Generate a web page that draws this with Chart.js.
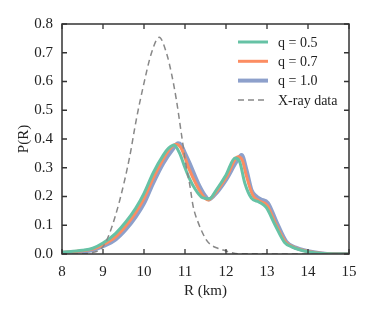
<!DOCTYPE html>
<html>
<head>
<meta charset="utf-8">
<script src="https://cdn.jsdelivr.net/npm/chart.js@4"></script>
<style>
  html, body { margin: 0; padding: 0; background: #fff; }
  #wrap { width: 374px; height: 312px; }
</style>
</head>
<body>
<div id="wrap"><canvas id="radius" width="374" height="312"></canvas></div>
<script>
// values
var rQ05 = [8.0, 8.5, 8.75, 9.0, 9.31, 9.56, 9.8, 10.0, 10.22, 10.47, 10.6, 10.73, 10.87, 11.0, 11.1, 11.25, 11.4, 11.48, 11.6, 11.75, 12.0, 12.22, 12.33, 12.46, 12.62, 12.8, 12.98, 13.2, 13.43, 13.6, 14.0, 14.5, 15.0];
var pQ05 = [0.006, 0.013, 0.02, 0.038, 0.072, 0.112, 0.16, 0.211, 0.281, 0.344, 0.368, 0.379, 0.35, 0.3, 0.265, 0.225, 0.198, 0.194, 0.192, 0.22, 0.275, 0.334, 0.322, 0.246, 0.194, 0.181, 0.162, 0.1, 0.04, 0.025, 0.008, 0.001, 0.0];

var rQ07 = [8.0, 8.5, 8.75, 9.0, 9.31, 9.56, 9.8, 10.0, 10.22, 10.47, 10.6, 10.78, 10.9, 11.0, 11.1, 11.3, 11.45, 11.57, 11.7, 12.0, 12.3, 12.4, 12.5, 12.65, 12.8, 13.0, 13.2, 13.45, 13.65, 14.0, 14.5, 15.0];
var pQ07 = [0.005, 0.011, 0.017, 0.032, 0.06, 0.098, 0.145, 0.193, 0.262, 0.33, 0.36, 0.382, 0.37, 0.335, 0.295, 0.235, 0.2, 0.188, 0.205, 0.265, 0.338, 0.325, 0.27, 0.205, 0.185, 0.17, 0.108, 0.042, 0.024, 0.009, 0.001, 0.0];

var rQ10 = [8.0, 8.5, 8.75, 9.0, 9.31, 9.56, 9.8, 10.0, 10.22, 10.47, 10.72, 10.83, 10.9, 11.0, 11.11, 11.32, 11.48, 11.58, 11.7, 12.0, 12.25, 12.38, 12.5, 12.62, 12.74, 12.85, 13.02, 13.23, 13.47, 13.7, 14.0, 14.3, 14.6, 15.0];
var pQ10 = [0.004, 0.009, 0.014, 0.027, 0.051, 0.086, 0.13, 0.176, 0.246, 0.316, 0.368, 0.385, 0.38, 0.35, 0.316, 0.246, 0.205, 0.19, 0.202, 0.258, 0.32, 0.344, 0.292, 0.223, 0.2, 0.19, 0.178, 0.112, 0.043, 0.022, 0.01, 0.003, 0.0, 0.0];

var rXray = [8.0, 8.5, 8.75, 9.0, 9.16, 9.41, 9.65, 9.81, 9.98, 10.18, 10.37, 10.55, 10.67, 10.79, 10.91, 11.03, 11.11, 11.2, 11.32, 11.52, 11.64, 11.8, 11.93, 12.1, 12.3, 15.0];
var pXray = [0.0, 0.001, 0.005, 0.025, 0.072, 0.188, 0.338, 0.466, 0.582, 0.698, 0.754, 0.698, 0.628, 0.536, 0.42, 0.304, 0.246, 0.165, 0.11, 0.049, 0.031, 0.02, 0.014, 0.006, 0.001, 0.0];

var seriesLabels = ['q = 0.5', 'q = 0.7', 'q = 1.0', 'X-ray data'];
var xTicksMin = 8, xTicksMax = 15;
var yTicksMin = 0, yTicksMax = 0.8;

function toPoints(xs, ys) {
    let pts = [];
    for (let i = 0; i < xs.length; i++) {
        pts.push({ x: xs[i], y: ys[i] });
    }
    return pts;
}

var serif = "'Liberation Serif', 'DejaVu Serif', serif";
var axisColor = '#333';

// inward ticks on all four sides + frame
const frameTicks = {
    id: 'frameTicks',
    afterDraw(chart) {
        const ctx = chart.ctx;
        const a = chart.chartArea;
        const xs = chart.scales.x, ys = chart.scales.y;
        ctx.save();
        ctx.strokeStyle = axisColor;
        ctx.lineWidth = 1.5;
        ctx.strokeRect(a.left, a.top, a.right - a.left, a.bottom - a.top);
        ctx.lineWidth = 1.3;
        ctx.beginPath();
        xs.ticks.forEach(function (t) {
            let px = xs.getPixelForValue(t.value);
            ctx.moveTo(px, a.bottom); ctx.lineTo(px, a.bottom - 5);
            ctx.moveTo(px, a.top); ctx.lineTo(px, a.top + 5);
        });
        ys.ticks.forEach(function (t) {
            let py = ys.getPixelForValue(t.value);
            ctx.moveTo(a.left, py); ctx.lineTo(a.left + 5, py);
            ctx.moveTo(a.right, py); ctx.lineTo(a.right - 5, py);
        });
        ctx.stroke();
        ctx.restore();
    }
};

// legend drawn inside the plot, top right
const insideLegend = {
    id: 'insideLegend',
    afterDraw(chart) {
        const ctx = chart.ctx;
        const a = chart.chartArea;
        const x0 = a.right - 111, x1 = a.right - 81, tx = a.right - 71;
        ctx.save();
        ctx.font = "14px " + serif;
        ctx.textBaseline = 'middle';
        chart.data.datasets.forEach(function (ds, i) {
            let y = a.top + 18 + i * 19.3;
            ctx.strokeStyle = ds.borderColor;
            ctx.lineWidth = ds.borderWidth;
            ctx.setLineDash(ds.borderDash || []);
            ctx.beginPath();
            ctx.moveTo(x0, y); ctx.lineTo(x1, y);
            ctx.stroke();
            ctx.setLineDash([]);
            ctx.fillStyle = '#222';
            ctx.fillText(ds.label, tx, y + 1);
        });
        ctx.restore();
    }
};

var ctxRadius = document.getElementById('radius').getContext('2d');
const radiusConfig = {
    type: 'scatter',
    data: {
        datasets: [{
            label: seriesLabels[0],
            data: toPoints(rQ05, pQ05),
            borderColor: '#66c2a5',
            borderWidth: 3,
            order: 1
        }, {
            label: seriesLabels[1],
            data: toPoints(rQ07, pQ07),
            borderColor: '#fc8d62',
            borderWidth: 3,
            order: 2
        }, {
            label: seriesLabels[2],
            data: toPoints(rQ10, pQ10),
            borderColor: '#8da0cb',
            borderWidth: 4,
            order: 3
        }, {
            label: seriesLabels[3],
            data: toPoints(rXray, pXray),
            borderColor: '#888',
            borderWidth: 1.5,
            borderDash: [6, 4],
            order: 0
        }]
    },
    options: {
        responsive: false,
        animation: false,
        showLine: true,
        layout: { padding: { top: 24, right: 25, left: 0, bottom: 0 } },
        elements: {
            point: { radius: 0 },
            line: { cubicInterpolationMode: 'monotone', fill: false }
        },
        scales: {
            x: {
                type: 'linear',
                min: xTicksMin,
                max: xTicksMax,
                grid: { display: false, drawTicks: false },
                border: { display: false },
                ticks: {
                    stepSize: 1,
                    padding: 9,
                    color: '#222',
                    font: { family: serif, size: 15 }
                },
                title: {
                    display: true,
                    text: 'R (km)',
                    color: '#222',
                    padding: { top: 2, bottom: 12 },
                    font: { family: serif, size: 15 }
                },
                afterFit(scale) { scale.height = 58; }
            },
            y: {
                type: 'linear',
                min: yTicksMin,
                max: yTicksMax,
                grid: { display: false, drawTicks: false },
                border: { display: false },
                ticks: {
                    stepSize: 0.1,
                    padding: 9,
                    color: '#222',
                    font: { family: serif, size: 15 },
                    callback: function (v) { return v.toFixed(1); }
                },
                title: {
                    display: true,
                    text: 'P(R)',
                    color: '#222',
                    padding: { top: 15, bottom: 4 },
                    font: { family: serif, size: 15 }
                },
                afterFit(scale) { scale.width = 62; }
            }
        },
        plugins: {
            legend: { display: false },
            tooltip: { enabled: false }
        }
    },
    plugins: [frameTicks, insideLegend]
};
var radiusChart = new Chart(ctxRadius, radiusConfig);
</script>
</body>
</html>
